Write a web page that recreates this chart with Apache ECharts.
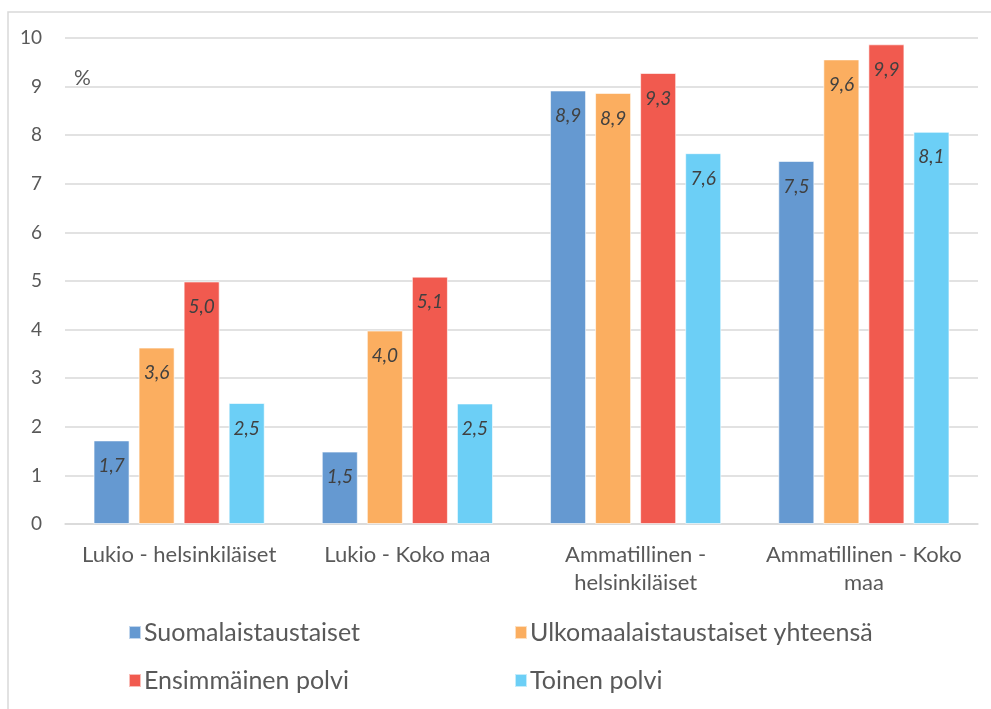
<!DOCTYPE html>
<html>
<head>
<meta charset="utf-8">
<script src="https://cdn.jsdelivr.net/npm/echarts@6/dist/echarts.min.js"></script>
<style>
  html, body { margin: 0; padding: 0; background: #fff; }
  #main { width: 991px; height: 709px; }
</style>
</head>
<body>
<div id="main"></div>
<script>
// data
var categories = ['Lukio - helsinkiläiset', 'Lukio - Koko maa', 'Ammatillinen -\nhelsinkiläiset', 'Ammatillinen - Koko\nmaa'];
var seriesNames = ['Suomalaistaustaiset', 'Ulkomaalaistaustaiset yhteensä', 'Ensimmäinen polvi', 'Toinen polvi'];
var suomalais = [1.72, 1.49, 8.92, 7.47];
var ulkomaalais = [3.63, 3.98, 8.87, 9.56];
var ensimmainen = [4.99, 5.09, 9.28, 9.87];
var toinen = [2.49, 2.48, 7.63, 8.07];
var yTicks = [0, 10, 1]; // min, max, interval

var colors = ['#6599D1', '#FBAE60', '#F15A4F', '#6CCFF6'];
var font = 'Lato, "Open Sans", sans-serif';

function makeSeries(name, data, i) {
    return {
        name: name,
        type: 'bar',
        data: data,
        barGap: '25%',
        barCategoryGap: '25%',
        itemStyle: { color: colors[i], borderColor: 'rgba(255,255,255,0.6)', borderWidth: 1 },
        label: {
            show: true,
            position: 'insideTop',
            distance: 16,
            fontFamily: font,
            fontStyle: 'italic',
            fontSize: 19,
            color: '#404040',
            formatter: function (p) { return p.value.toFixed(1).replace('.', ','); }
        }
    };
}

// legend is 2x2 in the original
var legendPos = [[128, 620], [514, 620], [128, 668], [514, 668]];

var option = {
    animation: false,
    color: colors,
    grid: { left: 65, right: 13, top: 38, bottom: 185 },
    graphic: [
        { type: 'rect', shape: { x: 8, y: 12, width: 1000, height: 720 }, style: { fill: 'none', stroke: '#d9d9d9', lineWidth: 1.5 } },
        { type: 'text', left: 74, top: 68, style: { text: '%', fontFamily: font, fontSize: 21, fill: '#595959' } }
    ],
    legend: seriesNames.map(function (n, i) {
        return {
            data: [n],
            left: legendPos[i][0],
            top: legendPos[i][1],
            padding: 0,
            itemWidth: 12,
            itemHeight: 13,
            itemGap: 5,
            icon: 'rect',
            textStyle: { fontFamily: font, fontSize: 25, color: '#595959', padding: [0, 0, 0, -2] }
        };
    }),
    xAxis: {
        type: 'category',
        data: categories,
        axisLine: { show: true, lineStyle: { color: '#d9d9d9', width: 1.5 } },
        axisTick: { show: false },
        axisLabel: { fontFamily: font, fontSize: 22, color: '#595959', margin: 17, lineHeight: 28, interval: 0 }
    },
    yAxis: {
        type: 'value',
        min: yTicks[0],
        max: yTicks[1],
        interval: yTicks[2],
        axisLine: { show: false },
        axisTick: { show: false },
        axisLabel: { fontFamily: font, fontSize: 19, color: '#595959', margin: 23 },
        splitLine: { lineStyle: { color: '#d9d9d9', width: 1.5 } }
    },
    series: [
        makeSeries(seriesNames[0], suomalais, 0),
        makeSeries(seriesNames[1], ulkomaalais, 1),
        makeSeries(seriesNames[2], ensimmainen, 2),
        makeSeries(seriesNames[3], toinen, 3)
    ]
};

var myChart = echarts.init(document.getElementById('main'));
myChart.setOption(option);
</script>
</body>
</html>
